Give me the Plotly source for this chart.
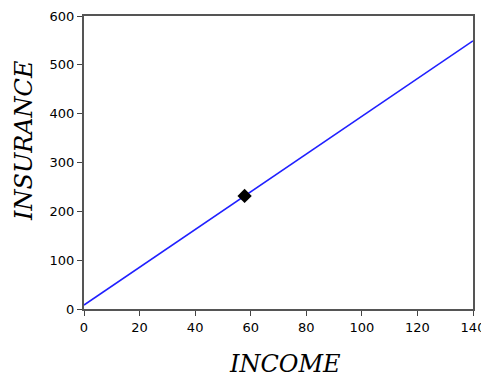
import plotly.graph_objects as go

# Fitted regression line and the sample-mean point
line_income = [0, 140]
line_insurance = [8, 549]
mean_income = [57.8]
mean_insurance = [231.5]

x_ticks = [0, 20, 40, 60, 80, 100, 120, 140]
y_ticks = [0, 100, 200, 300, 400, 500, 600]

W, H = 481, 378
M = dict(l=84, r=8, t=16, b=69)
plot_w = W - M["l"] - M["r"]
plot_h = H - M["t"] - M["b"]

fig = go.Figure()
fig.add_trace(go.Scatter(
    x=line_income, y=line_insurance, mode="lines",
    line=dict(color="#2020ff", width=1.6), showlegend=False,
))
fig.add_trace(go.Scatter(
    x=mean_income, y=mean_insurance, mode="markers",
    marker=dict(symbol="diamond", size=11, color="black"), showlegend=False,
))

tick_font = dict(family="DejaVu Sans", size=13, color="black")
title_font = dict(family="DejaVu Serif", size=24, color="black")

axis_style = dict(
    ticks="outside", ticklen=5, tickcolor="#444",
    showgrid=False, zeroline=False, automargin=False,
    showline=True, linecolor="#555", linewidth=2, mirror=True,
    tickfont=tick_font, ticklabeloverflow="allow",
)

fig.update_layout(
    width=W, height=H, margin=M,
    paper_bgcolor="white", plot_bgcolor="white",
    xaxis=dict(range=[0, 140], tickvals=x_ticks, **axis_style),
    yaxis=dict(range=[0, 600], tickvals=y_ticks, **axis_style),
)

# Axis titles placed in pixel terms relative to the plot area
fig.add_annotation(
    text="<i>INCOME</i>", font=title_font, showarrow=False,
    xref="paper", yref="paper",
    x=(285 - M["l"]) / plot_w, y=(H - M["b"] - 364) / plot_h,
    xanchor="center", yanchor="middle",
)
fig.add_annotation(
    text="<i>INSURANCE</i>", font=title_font, showarrow=False, textangle=-90,
    xref="paper", yref="paper",
    x=(24 - M["l"]) / plot_w, y=(H - M["b"] - 141) / plot_h,
    xanchor="center", yanchor="middle",
)

fig.write_html("out.html")
